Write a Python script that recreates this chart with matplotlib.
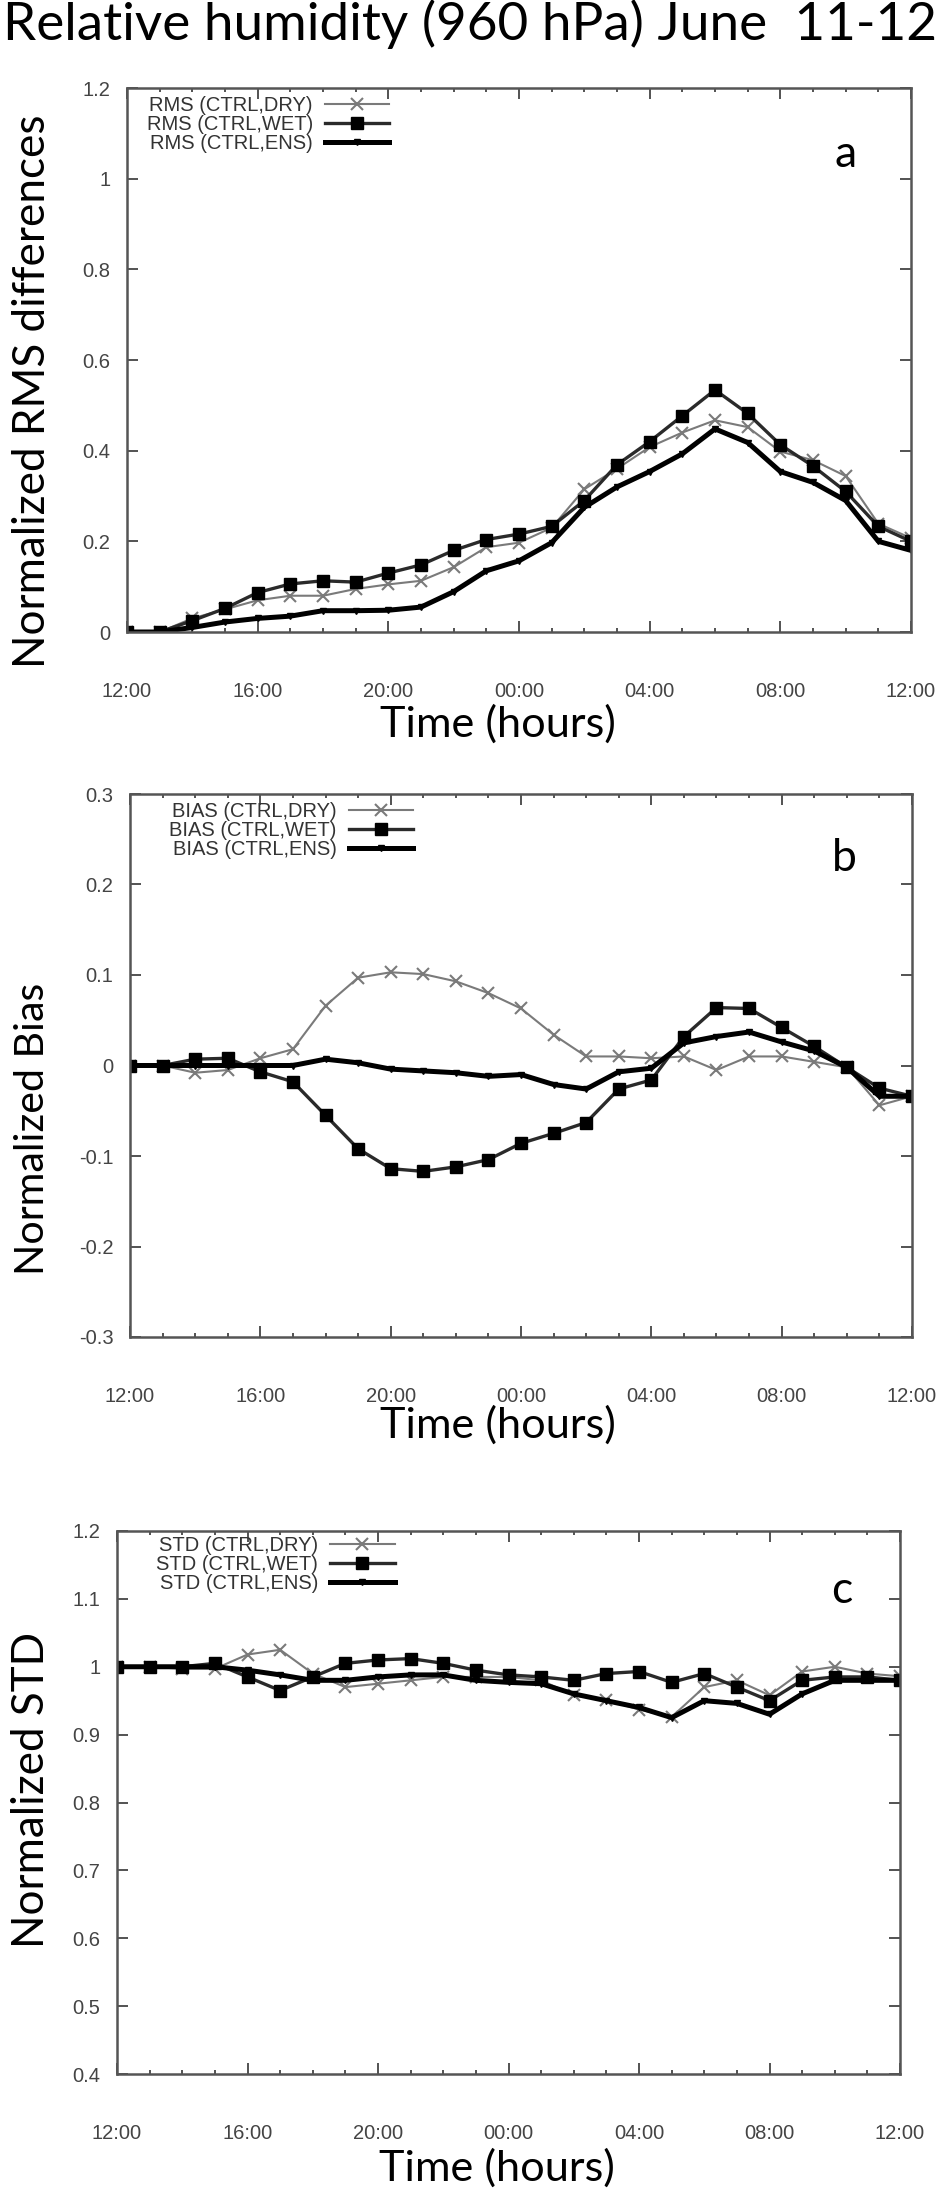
import matplotlib
matplotlib.use("Agg")
import matplotlib.pyplot as plt
from matplotlib.ticker import MultipleLocator, FuncFormatter

# hours after 12:00 on June 11 (hourly output, 25 steps)
hours = list(range(25))
tick_hours = [0, 4, 8, 12, 16, 20, 24]
tick_names = ["12:00", "16:00", "20:00", "00:00", "04:00", "08:00", "12:00"]

# panel a: normalized RMS differences
rms_dry = [0, 0, 0.03, 0.05, 0.07, 0.08, 0.08, 0.095, 0.105, 0.113, 0.143, 0.187, 0.197,
           0.23, 0.315, 0.36, 0.408, 0.44, 0.467, 0.452, 0.398, 0.379, 0.344, 0.239, 0.207]
rms_wet = [0, 0, 0.025, 0.052, 0.087, 0.106, 0.113, 0.110, 0.13, 0.148, 0.18, 0.204, 0.216,
           0.233, 0.29, 0.369, 0.42, 0.477, 0.534, 0.482, 0.413, 0.366, 0.31, 0.233, 0.2]
rms_ens = [0, 0, 0.01, 0.022, 0.03, 0.035, 0.047, 0.047, 0.048, 0.055, 0.089, 0.135, 0.157,
           0.197, 0.275, 0.32, 0.354, 0.393, 0.448, 0.418, 0.354, 0.33, 0.29, 0.2, 0.18]

# panel b: normalized bias
bias_dry = [0, 0, -0.008, -0.005, 0.008, 0.018, 0.066, 0.097, 0.103, 0.101, 0.093, 0.08, 0.063,
            0.034, 0.01, 0.01, 0.008, 0.01, -0.005, 0.01, 0.01, 0.004, -0.002, -0.044, -0.034]
bias_wet = [0, 0, 0.007, 0.008, -0.007, -0.018, -0.055, -0.092, -0.114, -0.117, -0.112, -0.104,
            -0.086, -0.075, -0.063, -0.026, -0.016, 0.032, 0.064, 0.063, 0.042, 0.021, -0.002,
            -0.025, -0.034]
bias_ens = [0, 0, 0, 0, 0, 0, 0.007, 0.003, -0.004, -0.006, -0.008, -0.012, -0.01,
            -0.021, -0.026, -0.007, -0.003, 0.025, 0.032, 0.037, 0.026, 0.016, -0.002, -0.034, -0.034]

# panel c: normalized standard deviation
std_dry = [1.0, 1.0, 0.997, 0.997, 1.018, 1.025, 0.99, 0.97, 0.975, 0.98, 0.985, 0.985, 0.985,
           0.98, 0.958, 0.951, 0.937, 0.926, 0.97, 0.98, 0.958, 0.993, 1.0, 0.99, 0.986]
std_wet = [1.0, 1.0, 1.0, 1.005, 0.985, 0.965, 0.985, 1.005, 1.01, 1.012, 1.005, 0.995, 0.988,
           0.985, 0.98, 0.99, 0.993, 0.977, 0.99, 0.97, 0.95, 0.98, 0.985, 0.985, 0.98]
std_ens = [1.0, 1.0, 1.0, 1.0, 0.995, 0.988, 0.98, 0.98, 0.985, 0.988, 0.988, 0.98, 0.977,
           0.975, 0.96, 0.95, 0.94, 0.925, 0.95, 0.946, 0.93, 0.96, 0.98, 0.98, 0.98]

W, H = 948, 2190
fig = plt.figure(figsize=(W / 100, H / 100), dpi=100)
big_font = "Lato"
small_font = "Liberation Sans"
to_fit = []  # (text artist, wanted length in px, horizontal?)


def rect(left, right, top, bottom):
    # pixel box -> figure fraction
    return [left / W, 1 - bottom / H, (right - left) / W, (bottom - top) / H]


def fmt(v, pos):
    s = "%.1f" % v
    if s.endswith(".0"):
        s = s[:-2]
    if s == "-0":
        s = "0"
    return s


def panel(box, series, names, ylim, ystep, ylabel, ylen, letter, xl, yl, letter_pos, leg_anchor):
    ax = fig.add_axes(rect(*box))
    dry, wet, ens = series
    ax.plot(hours, dry, color="#7a7a7a", lw=1.5, marker="x", ms=9, mew=1.5, label=names[0])
    ax.plot(hours, wet, color="#2a2a2a", lw=2.4, marker="s", ms=8, mfc="black", mec="black", label=names[1])
    ax.plot(hours, ens, color="black", lw=3.6, marker="v", ms=5, label=names[2])
    ax.set_xlim(0, 24)
    ax.set_ylim(*ylim)
    ax.set_xticks(tick_hours)
    ax.set_xticklabels(tick_names)
    ax.xaxis.set_minor_locator(MultipleLocator(1))
    ax.yaxis.set_major_locator(MultipleLocator(ystep))
    ax.yaxis.set_major_formatter(FuncFormatter(fmt))
    ax.tick_params(which="both", direction="in", top=True, right=True, color="#444")
    ax.tick_params(which="major", length=8, width=1.3)
    ax.tick_params(which="minor", length=3, width=1.3)
    ax.tick_params(axis="x", pad=36)
    ax.tick_params(axis="y", pad=12)
    for lab in ax.get_xticklabels() + ax.get_yticklabels():
        lab.set_fontfamily(small_font)
        lab.set_fontsize(14.5)
        lab.set_color("#444")
    for sp in ax.spines.values():
        sp.set_color("#555")
        sp.set_linewidth(1.8)
    ax.set_xlabel("Time (hours)", fontsize=30, family=big_font, va="center")
    ax.xaxis.set_label_coords(*xl)
    ax.set_ylabel(ylabel, fontsize=30, family=big_font, va="center")
    ax.yaxis.set_label_coords(*yl)
    to_fit.append((ax.xaxis.label, 236, True))
    to_fit.append((ax.yaxis.label, ylen, False))
    ax.text(letter_pos[0], letter_pos[1], letter, transform=ax.transAxes, fontsize=32,
            family=big_font, ha="center", va="center")
    leg = ax.legend(loc="upper left", bbox_to_anchor=leg_anchor, frameon=False, markerfirst=False,
                    numpoints=1, handlelength=3.2, handletextpad=0.6, labelspacing=0.0,
                    borderaxespad=0, borderpad=0, prop={"family": small_font, "size": 14.5})
    for t in leg.get_texts():
        t.set_color("#333")
    return ax


panel((127, 911, 88, 632), (rms_dry, rms_wet, rms_ens),
      ["RMS (CTRL,DRY)", "RMS (CTRL,WET)", "RMS (CTRL,ENS)"],
      (0, 1.2), 0.2, "Normalized RMS differences", 552, "a",
      (0.473, -0.169), (-0.121, 0.443), (0.916, 0.877), (0.025, 0.985))

panel((130, 912, 794, 1337), (bias_dry, bias_wet, bias_ens),
      ["BIAS (CTRL,DRY)", "BIAS (CTRL,WET)", "BIAS (CTRL,ENS)"],
      (-0.3, 0.3), 0.1, "Normalized Bias", 292, "b",
      (0.471, -0.162), (-0.125, 0.383), (0.913, 0.882), (0.05, 0.985))

panel((117, 900, 1531, 2074), (std_dry, std_wet, std_ens),
      ["STD (CTRL,DRY)", "STD (CTRL,WET)", "STD (CTRL,ENS)"],
      (0.4, 1.2), 0.1, "Normalized STD", 315, "c",
      (0.485, -0.173), (-0.109, 0.523), (0.926, 0.891), (0.05, 0.99))

title = fig.text(470 / W, 1 - 24 / H, "Relative humidity (960 hPa) June  11-12", fontsize=32,
                 family=big_font, ha="center", va="center")
to_fit.append((title, 935, True))

# scale the big labels so their length matches the original
renderer = fig.canvas.get_renderer()
for t, want, horiz in to_fit:
    bb = t.get_window_extent(renderer)
    have = bb.width if horiz else bb.height
    t.set_fontsize(t.get_fontsize() * want / have)

fig.savefig("out.png", dpi=100)
